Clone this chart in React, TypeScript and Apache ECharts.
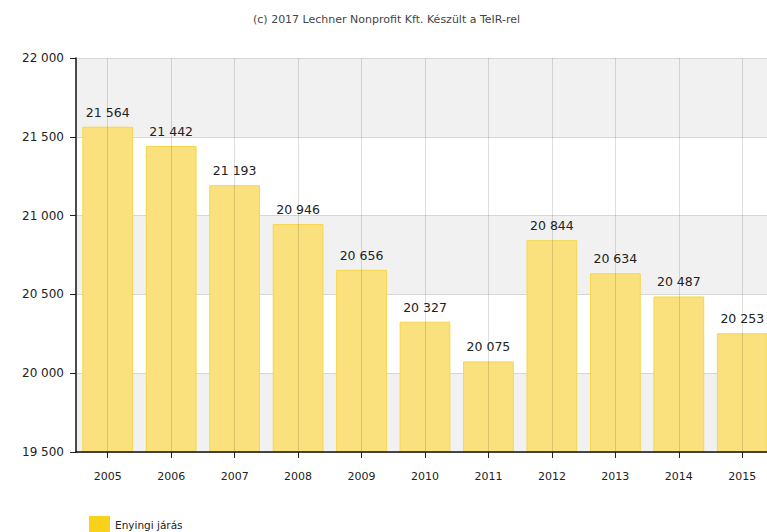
import React, { useEffect, useRef } from "react";
import * as echarts from "echarts";

const categories = ["2005", "2006", "2007", "2008", "2009", "2010", "2011", "2012", "2013", "2014", "2015"];
const values = [21564, 21442, 21193, 20946, 20656, 20327, 20075, 20844, 20634, 20487, 20253];
const seriesName = "Enyingi járás";
const titleText = "(c) 2017 Lechner Nonprofit Kft. Készült a TeIR-rel";

const fmt = (v: number) => {
  const s = String(Math.round(v));
  return s.replace(/\B(?=(\d{3})+(?!\d))/g, " ");
};

export default function App() {
  const ref = useRef<HTMLDivElement>(null);
  useEffect(() => {
    if (!ref.current) return;
    const chart = echarts.init(ref.current, null, { renderer: "svg" });
    const font = "DejaVu Sans, Verdana, sans-serif";
    chart.setOption({
      animation: false,
      backgroundColor: "#ffffff",
      title: {
        text: titleText,
        left: 248,
        top: 9,
        textStyle: { fontSize: 11, fontWeight: "normal", color: "#444", fontFamily: font },
      },
      legend: {
        left: 84,
        top: 511,
        itemWidth: 21,
        itemHeight: 17,
        icon: "rect",
        itemGap: 10,
        textStyle: { fontSize: 10.5, color: "#222", fontFamily: font },
        data: [{ name: seriesName, itemStyle: { color: "#f8d21a", opacity: 1, borderWidth: 0 } }],
      },
      grid: { left: 76, top: 58, bottom: 80, width: 698, containLabel: false, outerBoundsMode: "none" },
      xAxis: {
        type: "category",
        data: categories,
        z: 3,
        axisLine: { show: true, lineStyle: { color: "#111", width: 1.5 } },
        axisTick: { show: true, alignWithLabel: true, length: 6, lineStyle: { color: "#222" } },
        axisLabel: { margin: 19, fontSize: 11, color: "#222", fontFamily: font },
        splitLine: { show: true, alignWithLabel: true, lineStyle: { color: "rgba(0,0,0,0.13)", width: 1 } },
      },
      yAxis: {
        type: "value",
        min: 19500,
        max: 22000,
        interval: 500,
        axisLine: { show: true, lineStyle: { color: "#111", width: 1.5 } },
        axisTick: { show: true, length: 6, lineStyle: { color: "#222" } },
        axisLabel: { margin: 12, fontSize: 12, color: "#222", fontFamily: font, formatter: (v: number) => fmt(v) },
        splitLine: { show: true, lineStyle: { color: "#d6d6d6", width: 1 } },
        splitArea: { show: true, areaStyle: { color: ["#f1f1f1", "#ffffff"] } },
      },
      series: [
        {
          name: seriesName,
          type: "bar",
          data: values,
          barCategoryGap: "20%",
          itemStyle: { color: "#fae17e", borderColor: "#f6d64a", borderWidth: 1 },
          label: {
            show: true,
            position: "top",
            distance: 8,
            fontSize: 12.5,
            color: "#222",
            fontFamily: font,
            formatter: (p: any) => fmt(p.value),
          },
        },
      ],
    });
    return () => chart.dispose();
  }, []);
  return <div ref={ref} style={{ position: "fixed", left: 0, top: 0, width: 767, height: 532 }} />;
}
